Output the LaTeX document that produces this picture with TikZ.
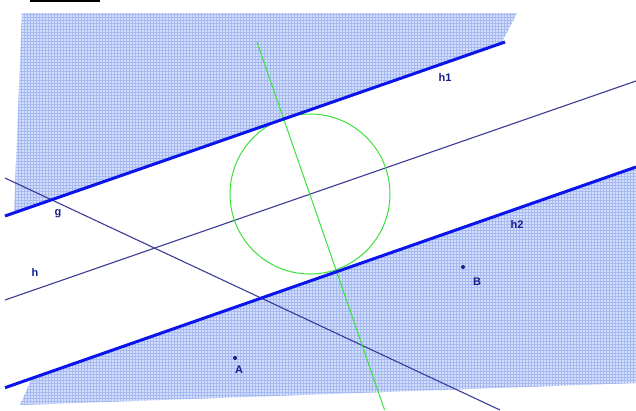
\documentclass[tikz,border=0pt]{standalone}
\usepackage{fontspec}
\setmainfont{Liberation Sans}
\usetikzlibrary{patterns}
\definecolor{hatchbg}{RGB}{212,222,250}
\definecolor{hatchln}{RGB}{165,185,242}
\definecolor{thickblue}{RGB}{10,20,235}
\definecolor{thinblue}{RGB}{60,60,150}
\definecolor{lgreen}{RGB}{60,225,60}
\definecolor{lbl}{RGB}{20,30,140}
\tikzset{
  hatch/.style={fill=hatchbg, postaction={pattern=grid, pattern color=hatchln}},
  boundline/.style={draw=thickblue, line width=3pt},
  thinline/.style={draw=thinblue, line width=1.1pt},
  greenline/.style={draw=lgreen, line width=1pt},
  lab/.style={text=lbl, font=\bfseries\fontsize{11}{12}\selectfont, inner sep=0pt},
  pt/.style={circle, fill=lbl, inner sep=0pt, minimum size=4pt}
}
\begin{document}
\begin{tikzpicture}[x=1pt,y=-1pt]
\useasboundingbox (0,0) rectangle (636,410);
\fill[white] (0,0) rectangle (636,410);
% hatched half-planes
\path[hatch] (22,13) -- (517,13) -- (502,42) -- (505,42) -- (5,216) -- (14,213) -- cycle;
\path[hatch] (32,378) -- (636,167) -- (636,383) -- (20,405) -- cycle;
% cut-off header fragment
\fill[black] (30,0) rectangle (100,2.2);
% coordinates
\coordinate (h1a) at (5,216);
\coordinate (h1b) at (505,42);
\coordinate (h2a) at (5,387.7);
\coordinate (h2b) at (636,167);
\coordinate (ha) at (5,300);
\coordinate (hb) at (636,81);
\coordinate (ga) at (5,178);
\coordinate (gb) at (500,410);
\coordinate (ma) at (257,42);
\coordinate (mb) at (384.6,410);
\coordinate (M) at (310,194);
% lines
\draw[thinline] (ha) -- (hb);
\draw[thinline] (ga) -- (gb);
\draw[greenline] (M) circle[radius=80];
\draw[greenline] (ma) -- (mb);
\draw[boundline] (h1a) -- (h1b);
\draw[boundline] (h2a) -- (h2b);
% points
\node[pt] (A) at (235,358) {};
\node[pt] (B) at (463,267) {};
% labels
\node[lab] (lA) at (239,370) {A};
\node[lab] (lB) at (477,282) {B};
\node[lab] (lg) at (58,214) {g};
\node[lab] (lh) at (35,273) {h};
\node[lab] (lh1) at (445,78) {h1};
\node[lab] (lh2) at (517,225) {h2};
\end{tikzpicture}
\end{document}
